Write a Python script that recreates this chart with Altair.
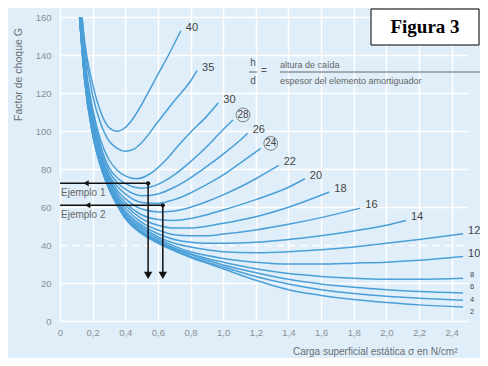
import altair as alt
import pandas as pd

# ---- curve data (h/d families) ----
LOW_X = [0.12, 0.15, 0.2, 0.25, 0.3, 0.35, 0.4, 0.5, 0.6, 0.7, 0.8, 0.9, 1.0, 1.2, 1.4, 1.6, 1.8, 2.0, 2.2, 2.47]
HD2_Y = [160, 127.5, 98, 81, 69.5, 61, 54, 46, 41, 37, 33.5, 30.5, 27.5, 21.5, 16.5, 13.5, 11.3, 9.8, 8.5, 7.4]
HD4_Y = [160, 128, 98.5, 81.5, 70, 61.5, 54.5, 46.5, 41.5, 37.5, 34, 31, 28.5, 23.5, 19.5, 16.5, 14.5, 13, 12, 11]
HD6_Y = [160, 128.5, 99, 82, 70.5, 62, 55, 47, 42, 38, 35, 32, 29.5, 25.5, 22, 19.5, 17.8, 16.5, 15.5, 14.7]
HD8_Y = [160, 129, 99.5, 82.5, 71, 62.5, 55.5, 47.5, 42.5, 38.5, 35.5, 33, 31, 27.5, 25, 23.5, 22.5, 22, 22, 22.6]
HD10_Y = [160, 129.5, 100, 83, 71.5, 63, 56, 48.5, 43.5, 39.5, 36.5, 34.5, 33, 31, 30, 30, 30.5, 31, 32, 34]
HD12_Y = [160, 130, 100.5, 83.5, 72, 63.5, 57, 49.5, 44.5, 41, 39, 37.5, 36.5, 36, 36.5, 37.5, 39, 41, 43, 46]

HD14_X = [0.125, 0.15, 0.2, 0.25, 0.3, 0.35, 0.4, 0.5, 0.6, 0.7, 0.8, 0.9, 1.0, 1.2, 1.4, 1.6, 1.8, 2.0, 2.12]
HD14_Y = [160, 131, 101, 84, 72.5, 64, 58, 50.5, 46, 43, 41.5, 41, 41, 41.5, 43, 45, 47.5, 50.5, 53]
HD16_X = [0.125, 0.15, 0.2, 0.25, 0.3, 0.35, 0.4, 0.5, 0.6, 0.7, 0.8, 0.9, 1.0, 1.2, 1.4, 1.6, 1.84]
HD16_Y = [160, 132, 102, 84, 73, 65, 59.5, 52, 48, 45.5, 45, 45, 45.8, 48, 51, 54.5, 59.5]
HD18_X = [0.125, 0.15, 0.2, 0.25, 0.3, 0.35, 0.4, 0.5, 0.6, 0.7, 0.8, 0.9, 1.0, 1.2, 1.4, 1.65]
HD18_Y = [160, 133, 103, 85, 74, 66, 61, 54, 50.5, 49, 49, 50, 51.5, 55, 60, 68]
HD20_X = [0.125, 0.15, 0.2, 0.25, 0.3, 0.35, 0.4, 0.5, 0.6, 0.7, 0.8, 0.9, 1.0, 1.2, 1.4, 1.5]
HD20_Y = [160, 134, 104, 86, 75, 67.5, 62.5, 56, 53.5, 53, 54, 56, 58.5, 64, 70.5, 75]
HD22_X = [0.125, 0.15, 0.2, 0.25, 0.3, 0.35, 0.4, 0.5, 0.6, 0.7, 0.8, 0.9, 1.0, 1.1, 1.2, 1.34]
HD22_Y = [160, 135, 105, 87, 76, 69, 64.5, 59, 57.5, 58, 60, 63, 66.5, 70.5, 75, 82]
HD24_X = [0.13, 0.15, 0.2, 0.25, 0.3, 0.35, 0.4, 0.5, 0.6, 0.7, 0.8, 0.9, 1.0, 1.1, 1.23]
HD24_Y = [160, 137, 106, 88, 77, 71, 67, 62.5, 62, 64, 67.5, 72, 77, 83, 91]
HD26_X = [0.13, 0.15, 0.2, 0.25, 0.3, 0.35, 0.4, 0.5, 0.6, 0.7, 0.8, 0.9, 1.0, 1.1, 1.15]
HD26_Y = [160, 138, 108, 90, 79, 73, 69.5, 66, 67, 70.5, 75.5, 81.5, 88, 95, 99]
HD28_X = [0.13, 0.15, 0.2, 0.25, 0.3, 0.35, 0.4, 0.5, 0.6, 0.7, 0.8, 0.9, 1.0, 1.06]
HD28_Y = [160, 139, 110, 92, 81, 75.5, 72.5, 70, 72, 77, 84, 92, 101, 106]
HD30_X = [0.13, 0.15, 0.2, 0.25, 0.3, 0.35, 0.4, 0.47, 0.55, 0.65, 0.72, 0.8, 0.9, 0.97]
HD30_Y = [160, 140, 112, 95, 85, 79.5, 76.5, 75, 77.5, 85, 92, 99.5, 108, 115]
HD35_X = [0.135, 0.15, 0.2, 0.25, 0.3, 0.35, 0.4, 0.45, 0.5, 0.6, 0.7, 0.8, 0.84]
HD35_Y = [160, 146, 119, 104, 95, 91, 89.5, 90.5, 94, 105, 116, 126.5, 132]
HD40_X = [0.135, 0.15, 0.2, 0.25, 0.3, 0.35, 0.4, 0.45, 0.5, 0.55, 0.6, 0.67, 0.74]
HD40_Y = [160, 148, 125, 110, 102, 100, 102, 107, 114, 122, 130, 141, 153]

CURVES = [
    (2, LOW_X, HD2_Y), (4, LOW_X, HD4_Y), (6, LOW_X, HD6_Y), (8, LOW_X, HD8_Y),
    (10, LOW_X, HD10_Y), (12, LOW_X, HD12_Y), (14, HD14_X, HD14_Y), (16, HD16_X, HD16_Y),
    (18, HD18_X, HD18_Y), (20, HD20_X, HD20_Y), (22, HD22_X, HD22_Y), (24, HD24_X, HD24_Y),
    (26, HD26_X, HD26_Y), (28, HD28_X, HD28_Y), (30, HD30_X, HD30_Y), (35, HD35_X, HD35_Y),
    (40, HD40_X, HD40_Y),
]
CIRCLED = [24, 28]
SMALL = [2, 4, 6, 8]

# examples
EX_NAMES = ["Ejemplo 1", "Ejemplo 2"]
EX_G = [72.6, 61.0]
EX_SIGMA = [0.54, 0.63]
EX_ARROW_X = [0.16, 0.17]
EX_BOTTOM = 24

X_TICKS = [0, 0.2, 0.4, 0.6, 0.8, 1.0, 1.2, 1.4, 1.6, 1.8, 2.0, 2.2, 2.4]
Y_TICKS = [0, 20, 40, 60, 80, 100, 120, 140, 160]

rows = []
for hd, xs, ys in CURVES:
    for x, y in zip(xs, ys):
        rows.append({"hd": hd, "x": x, "y": y})
df = pd.DataFrame(rows)

ends = pd.DataFrame([{"hd": hd, "x": xs[-1], "y": ys[-1], "label": str(hd)} for hd, xs, ys in CURVES])
ends_norm = ends[~ends.hd.isin(CIRCLED + SMALL)]
ends_circ = ends[ends.hd.isin(CIRCLED)]

ex = pd.DataFrame({"name": EX_NAMES, "g": EX_G, "s": EX_SIGMA, "ax": EX_ARROW_X,
                   "x0": [0, 0], "b": [EX_BOTTOM, EX_BOTTOM]})

BG = "#dfeef8"
BLUE = "#4a9fd8"
FONT = "Liberation Sans"

xscale = alt.Scale(domain=[0, 2.5], nice=False, zero=False)
yscale = alt.Scale(domain=[0, 165], nice=False)

x_axis = alt.Axis(
    values=X_TICKS,
    labelExpr="datum.value == 0 ? '0' : replace(format(datum.value, '.1f'), '.', ',')",
    title="Carga superficial estática σ en N/cm²",
    titleX=397, titleY=30, titleAlign="right", titleBaseline="middle",
    titleFontWeight="normal", titleFontSize=10, titleColor="#6a6f75", titleFont=FONT,
    labelPadding=6, labelOverlap=False, labelSeparation=0, labelFlush=False,
)
y_axis = alt.Axis(
    values=Y_TICKS,
    title="Factor de choque G",
    titleX=-42, titleY=66, titleAngle=270, titleAlign="center", titleBaseline="middle",
    titleFontWeight="normal", titleFontSize=10.5, titleColor="#6a6f75", titleFont=FONT,
    labelPadding=9, labelOverlap=False, labelSeparation=0, labelFlush=False,
    gridDash={"condition": {"test": "datum.value === 40", "value": [7, 5]}, "value": []},
)


def X(f):
    return alt.X(f, type="quantitative", scale=xscale, axis=x_axis)


def Y(f):
    return alt.Y(f, type="quantitative", scale=yscale, axis=y_axis)


lines = alt.Chart(df).mark_line(interpolate="monotone", strokeWidth=1.5, color=BLUE).encode(
    x=X("x"), y=Y("y"), detail="hd:N",
)

lab_norm = alt.Chart(ends_norm).mark_text(align="left", baseline="middle", dx=5, dy=-3,
                                          fontSize=11, color="#444", font=FONT).encode(
    x=X("x"), y=Y("y"), text="label:N")
lab_circ_ring = alt.Chart(ends_circ).mark_point(shape="circle", size=190, filled=False,
                                                stroke="#555", strokeWidth=1, xOffset=10, yOffset=-5).encode(
    x=X("x"), y=Y("y"))
lab_circ = alt.Chart(ends_circ).mark_text(align="center", baseline="middle", dx=10, dy=-5,
                                          fontSize=10, color="#444", font=FONT).encode(
    x=X("x"), y=Y("y"), text="label:N")

SMALL_DY = {8: -3, 6: -6, 4: 0, 2: 5}
small_layers = []
for hd in SMALL:
    sub = ends[ends.hd == hd]
    small_layers.append(
        alt.Chart(sub).mark_text(align="left", baseline="middle", dx=7, dy=SMALL_DY[hd],
                                 fontSize=7.5, color="#444", font=FONT).encode(
            x=X("x"), y=Y("y"), text="label:N"))

ex_h = alt.Chart(ex).mark_rule(color="#111", strokeWidth=1.5).encode(x=X("x0"), x2="s:Q", y=Y("g"))
ex_v = alt.Chart(ex).mark_rule(color="#111", strokeWidth=1.5).encode(x=X("s"), y=Y("g"), y2="b:Q")
ex_dot = alt.Chart(ex).mark_point(filled=True, size=18, color="#111", opacity=1).encode(x=X("s"), y=Y("g"))
ex_down = alt.Chart(ex).mark_point(shape="triangle-down", filled=True, size=70, color="#111",
                                   opacity=1).encode(x=X("s"), y=Y("b"))
ex_left = alt.Chart(ex).mark_point(shape="triangle-left", filled=True, size=35, color="#111",
                                   opacity=1).encode(x=X("ax"), y=Y("g"))
ex_txt = alt.Chart(ex).mark_text(align="left", baseline="middle", dx=1, dy=10, fontSize=10,
                                 color="#666", font=FONT).encode(x=X("x0"), y=Y("g"), text="name:N")

# h/d definition
frac_df = pd.DataFrame({"h": ["h"], "d": ["d"], "eq": ["="], "num": ["altura de caída"],
                        "den": ["espesor del elemento amortiguador"]})
frac_h = alt.Chart(frac_df).mark_text(fontSize=10, color="#555", font=FONT).encode(
    x=alt.value(193), y=alt.value(55), text="h:N")
frac_d = alt.Chart(frac_df).mark_text(fontSize=10, color="#555", font=FONT).encode(
    x=alt.value(193), y=alt.value(73), text="d:N")
frac_hd_line = alt.Chart(frac_df).mark_rule(color="#666", strokeWidth=1).encode(
    x=alt.value(189), x2=alt.value(197), y=alt.value(64))
frac_eq = alt.Chart(frac_df).mark_text(fontSize=10, color="#555", font=FONT).encode(
    x=alt.value(204), y=alt.value(63), text="eq:N")
frac_num = alt.Chart(frac_df).mark_text(align="left", fontSize=9, color="#666", font=FONT).encode(
    x=alt.value(220), y=alt.value(57), text="num:N")
frac_line = alt.Chart(frac_df).mark_rule(color="#666", strokeWidth=1).encode(
    x=alt.value(220), x2=alt.value(420), y=alt.value(64))
frac_den = alt.Chart(frac_df).mark_text(align="left", fontSize=9, color="#666", font=FONT).encode(
    x=alt.value(220), y=alt.value(73), text="den:N")

fig_df = pd.DataFrame({"t": ["Figura 3"]})
fig_box = alt.Chart(fig_df).mark_rect(fill="white", stroke="black", strokeWidth=1).encode(
    x=alt.value(311), x2=alt.value(419), y=alt.value(1), y2=alt.value(37))
fig_txt = alt.Chart(fig_df).mark_text(font="Liberation Serif", fontWeight="bold", fontSize=19,
                                      color="black").encode(
    x=alt.value(365), y=alt.value(19), text="t:N")

chart = alt.layer(
    lines, lab_norm, lab_circ_ring, lab_circ, *small_layers,
    ex_h, ex_v, ex_dot, ex_down, ex_left, ex_txt,
    frac_h, frac_d, frac_hd_line, frac_eq, frac_num, frac_line, frac_den,
    fig_box, fig_txt,
).properties(
    width=408, height=313,
    autosize=alt.AutoSizeParams(type="none"),
    padding={"left": 52, "top": 0, "right": 12, "bottom": 37},
    background=BG,
).configure_view(stroke=None, fill=BG).configure_axis(
    grid=True, gridColor="white", gridWidth=1.5, domain=False, ticks=False,
    labelColor="#8a8f95", labelFontSize=9.5, labelFont=FONT, labelOverlap=False,
)

chart.save("out.html", embed_options={"renderer": "svg", "actions": False})
